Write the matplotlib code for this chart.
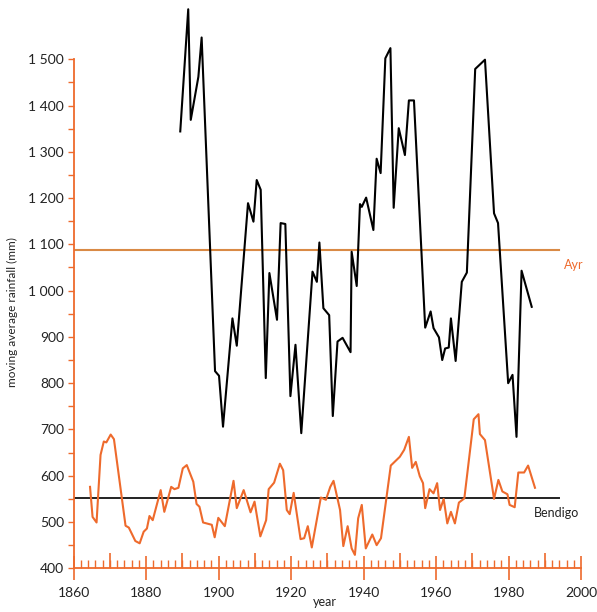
import numpy as np
import matplotlib
matplotlib.use("Agg")
import matplotlib.pyplot as plt
from matplotlib.ticker import FuncFormatter, MultipleLocator

# moving average rainfall, Ayr (black) and Bendigo (orange)
ayr_years = [1889.4, 1891.6, 1892.3, 1894.4, 1895.3, 1899.0, 1900.1, 1901.2, 1903.8, 1905.0,
             1908.1, 1909.6, 1910.5, 1911.6, 1913.0, 1914.0, 1916.1, 1917.1, 1918.4, 1919.8,
             1921.2, 1922.8, 1925.9, 1927.1, 1927.8, 1928.9, 1930.5, 1931.5, 1932.8, 1934.2,
             1936.4, 1936.7, 1938.1, 1939.0, 1939.5, 1940.7, 1942.7, 1943.6, 1944.7, 1946.0,
             1947.4, 1948.3, 1949.7, 1951.4, 1952.5, 1953.9, 1957.0, 1958.5, 1959.3, 1960.8,
             1961.7, 1962.5, 1963.5, 1964.1, 1965.4, 1967.1, 1968.5, 1970.8, 1973.5, 1976.0,
             1977.1, 1979.9, 1981.1, 1982.2, 1983.6, 1986.4]
ayr_rain = [1344, 1608, 1369, 1462, 1547, 826, 816, 706, 940, 881,
            1189, 1149, 1239, 1218, 811, 1038, 937, 1146, 1144, 772,
            883, 692, 1041, 1019, 1104, 962, 947, 729, 890, 898,
            867, 1084, 1010, 1187, 1181, 1201, 1131, 1285, 1254, 1502,
            1524, 1179, 1351, 1293, 1411, 1411, 920, 955, 919, 899,
            850, 875, 877, 940, 848, 1019, 1039, 1479, 1499, 1167,
            1146, 800, 818, 684, 1043, 965]

bendigo_years = [1864.5, 1865.2, 1866.3, 1867.4, 1868.3, 1869.0, 1870.2, 1871.1, 1874.3, 1875.2,
                 1877.0, 1878.2, 1879.3, 1880.2, 1880.9, 1881.8, 1884.0, 1885.0, 1886.9, 1887.8,
                 1888.9, 1890.1, 1891.2, 1893.0, 1893.9, 1894.7, 1895.7, 1898.1, 1898.9, 1899.9,
                 1901.7, 1904.1, 1905.0, 1906.9, 1908.8, 1909.9, 1911.5, 1913.1, 1913.8, 1915.3,
                 1916.9, 1917.8, 1918.8, 1919.6, 1920.7, 1922.6, 1923.6, 1924.6, 1925.7, 1928.2,
                 1929.6, 1930.8, 1931.7, 1933.5, 1934.4, 1935.6, 1936.7, 1937.6, 1938.5, 1939.5,
                 1940.6, 1942.4, 1943.6, 1944.8, 1947.5, 1950.0, 1951.2, 1952.5, 1953.4, 1954.4,
                 1955.5, 1956.4, 1957.0, 1958.2, 1959.3, 1960.3, 1961.1, 1962.1, 1963.1, 1964.1,
                 1965.2, 1966.3, 1967.8, 1970.4, 1971.7, 1972.1, 1973.5, 1976.0, 1977.2, 1978.3,
                 1979.7, 1980.3, 1981.7, 1982.7, 1984.3, 1985.4, 1987.3]
bendigo_rain = [576, 511, 499, 645, 674, 672, 689, 679, 492, 488,
                459, 454, 479, 486, 513, 504, 569, 522, 576, 571,
                574, 616, 623, 587, 539, 533, 499, 494, 467, 509,
                491, 589, 530, 569, 521, 544, 469, 504, 571, 585,
                626, 612, 526, 517, 563, 463, 465, 491, 445, 553,
                548, 576, 589, 526, 448, 491, 443, 429, 508, 537,
                443, 473, 450, 465, 622, 641, 656, 684, 617, 630,
                599, 584, 530, 571, 562, 584, 526, 550, 497, 522,
                497, 542, 551, 722, 733, 690, 677, 550, 591, 566,
                560, 537, 532, 607, 607, 622, 574]

ayr_mean = 1088
bendigo_mean = 552
mean_start, mean_end = 1860, 1994

orange = '#ee6a2c'
ayr_line_col = '#d98a45'
plt.rcParams['font.family'] = ['Lato', 'DejaVu Sans']

fig = plt.figure(figsize=(5.97, 6.12), dpi=100)
ax = fig.add_axes([0.1235, 0.0714, 0.8497, 0.9286])

ax.plot([mean_start, mean_end], [ayr_mean, ayr_mean], color=ayr_line_col, lw=1.5)
ax.plot([mean_start, mean_end], [bendigo_mean, bendigo_mean], color='#222222', lw=1.4)
ax.plot(ayr_years, ayr_rain, color='black', lw=1.5)
ax.plot(bendigo_years, bendigo_rain, color=orange, lw=1.5)

ax.text(1995.2, 1055, 'Ayr', color=orange, fontsize=9, va='center')
ax.text(1987.1, 519, 'Bendigo', color='#222222', fontsize=9, va='center')

ax.set_xlim(1860, 2000)
ax.set_ylim(400, 1628)

for s in ['top', 'right']:
    ax.spines[s].set_visible(False)
ax.spines['left'].set_color(orange)
ax.spines['bottom'].set_color(orange)
ax.spines['left'].set_linewidth(1.3)
ax.spines['bottom'].set_linewidth(1.3)
ax.spines['left'].set_bounds(400, 1500)

ax.xaxis.set_major_locator(MultipleLocator(20))
ax.xaxis.set_minor_locator(MultipleLocator(2))
ax.tick_params(axis='x', which='major', direction='inout', length=17, width=1.2,
               color=orange, labelsize=10, labelcolor='#222222', pad=5)
ax.tick_params(axis='x', which='minor', direction='in', length=6, width=1.0, color=orange)

ax.set_yticks(np.arange(400, 1501, 100))
ax.set_yticks(np.arange(450, 1500, 100), minor=True)
ax.yaxis.set_major_formatter(FuncFormatter(
    lambda v, p: f'{int(v):,}'.replace(',', ' ')))
ax.tick_params(axis='y', which='both', direction='out', length=4, width=1.0,
               color=orange, labelsize=10, labelcolor='#222222', pad=3)

# taller 10-year ticks
sec = ax.secondary_xaxis('bottom')
sec.set_xticks(np.arange(1870, 2000, 20))
sec.tick_params(direction='in', length=11, width=1.2, color=orange, labelbottom=False)
sec.spines['bottom'].set_visible(False)

ax.set_ylabel('moving average rainfall (mm)', fontsize=8.5, color='#222222')
ax.yaxis.set_label_coords(-0.11, 0.451)
ax.set_xlabel('year', fontsize=9, color='#222222')
ax.xaxis.set_label_coords(0.495, -0.048)

fig.savefig('out.png', dpi=100)
